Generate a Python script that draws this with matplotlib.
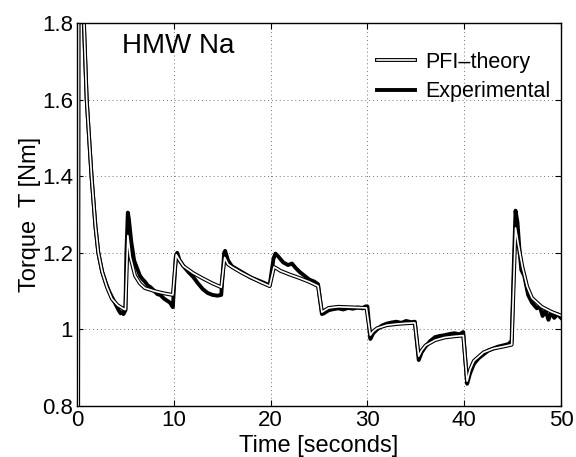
import numpy as np
import matplotlib
matplotlib.use('Agg')
from matplotlib import pyplot as plt
from matplotlib.lines import Line2D

plt.rcParams['font.family'] = ['Liberation Sans', 'DejaVu Sans']

# PFI theory curve (time s, torque Nm)
t_theory = [0.0, 0.12, 0.18, 0.72, 1.0, 1.5, 1.9, 2.2, 2.6, 3.1, 3.6, 4.2, 4.9, 5.0,
            5.25, 5.5, 6.0, 6.5, 7.0, 8.0, 9.0, 9.9,
            10.25, 10.6, 11.0, 12.0, 13.0, 14.0, 14.9,
            15.25, 15.6, 16.0, 17.0, 18.0, 19.0, 19.9,
            20.35, 20.7, 21.0, 22.0, 23.0, 24.0, 24.9,
            25.3, 25.6, 26.0, 27.0, 28.0, 29.0, 29.9,
            30.3, 30.6, 31.0, 32.0, 33.0, 34.0, 34.9,
            35.3, 35.6, 36.0, 37.0, 38.0, 39.0, 39.9,
            40.3, 40.6, 41.0, 42.0, 43.0, 44.0, 44.9,
            45.3, 45.6, 46.0, 46.5, 47.0, 48.0, 49.0, 50.0]
T_theory = [0.80, 0.80, 2.30, 1.80, 1.60, 1.40, 1.27, 1.20, 1.15, 1.11, 1.08, 1.063, 1.052, 1.052,
            1.245, 1.19, 1.14, 1.12, 1.108, 1.100, 1.094, 1.090,
            1.195, 1.18, 1.165, 1.147, 1.133, 1.12, 1.11,
            1.188, 1.17, 1.163, 1.148, 1.135, 1.123, 1.113,
            1.163, 1.158, 1.153, 1.143, 1.134, 1.124, 1.113,
            1.045, 1.05, 1.056, 1.059, 1.058, 1.057, 1.056,
            0.985, 0.995, 1.003, 1.011, 1.014, 1.016, 1.017,
            0.93, 0.945, 0.958, 0.972, 0.979, 0.982, 0.984,
            0.865, 0.895, 0.918, 0.940, 0.950, 0.955, 0.96,
            1.265, 1.22, 1.164, 1.112, 1.082, 1.059, 1.046, 1.036]

# measured torque
t_exp = [0.0, 0.1, 0.15, 0.7, 1.0, 1.5, 1.9, 2.2, 2.6, 3.0, 3.3, 3.6, 4.0, 4.3, 4.5, 4.7, 4.8, 5.0,
         5.1, 5.25, 5.35, 5.6, 5.9, 6.2, 6.5, 6.8, 7.0, 7.3, 7.6, 8.0, 8.3, 8.6, 9.0, 9.3, 9.6, 9.9,
         10.2, 10.35, 10.6, 11.0, 11.5, 12.0, 12.5, 13.0, 13.5, 14.0, 14.5, 14.9,
         15.2, 15.3, 15.6, 16.0, 17.0, 18.0, 19.0, 19.9,
         20.3, 20.5, 20.8, 21.3, 21.8, 22.2, 22.6, 23.0, 23.5, 24.0, 24.5, 24.9,
         25.3, 25.5, 26.0, 26.5, 27.0, 27.5, 28.0, 28.5, 29.0, 29.5, 29.8, 30.0,
         30.3, 30.6, 31.0, 31.5, 32.0, 32.5, 33.0, 33.5, 34.0, 34.5, 34.9,
         35.3, 35.6, 36.0, 36.5, 37.0, 37.5, 38.0, 38.5, 39.0, 39.5, 39.9,
         40.3, 40.6, 41.0, 41.5, 42.0, 42.5, 43.0, 43.5, 44.0, 44.6, 44.9,
         45.1, 45.3, 45.5, 45.7, 45.9, 46.2, 46.6, 47.0, 47.5, 47.8, 48.1, 48.4, 48.7,
         49.0, 49.3, 49.6, 50.0]
T_exp = [0.80, 0.80, 2.30, 1.80, 1.60, 1.40, 1.27, 1.20, 1.15, 1.12, 1.10, 1.085, 1.065, 1.05, 1.042, 1.045, 1.04, 1.05,
         1.20, 1.305, 1.29, 1.23, 1.18, 1.16, 1.14, 1.13, 1.125, 1.115, 1.11, 1.10, 1.092, 1.09, 1.08, 1.075, 1.07, 1.058,
         1.19, 1.20, 1.18, 1.165, 1.15, 1.137, 1.12, 1.105, 1.095, 1.09, 1.088, 1.09,
         1.20, 1.205, 1.18, 1.165, 1.15, 1.135, 1.125, 1.115,
         1.185, 1.198, 1.19, 1.175, 1.168, 1.172, 1.16, 1.15, 1.14, 1.13, 1.125, 1.118,
         1.04, 1.042, 1.05, 1.053, 1.055, 1.052, 1.056, 1.054, 1.057, 1.055, 1.06, 1.06,
         0.975, 0.99, 1.0, 1.01, 1.015, 1.018, 1.02, 1.017, 1.022, 1.019, 1.02,
         0.92, 0.94, 0.955, 0.97, 0.98, 0.983, 0.985, 0.988, 0.99, 0.987, 0.993,
         0.858, 0.885, 0.91, 0.925, 0.935, 0.945, 0.95, 0.955, 0.958, 0.962, 0.97,
         1.15, 1.31, 1.28, 1.21, 1.155, 1.14, 1.09, 1.07, 1.055, 1.06, 1.035, 1.05, 1.025,
         1.045, 1.03, 1.04, 1.03]

xticks = [0, 10, 20, 30, 40, 50]
yticks = [0.8, 1.0, 1.2, 1.4, 1.6, 1.8]
ytick_labels = ['0.8', '1', '1.2', '1.4', '1.6', '1.8']

fig = plt.figure(figsize=(5.76, 4.57), dpi=100)
ax = fig.add_axes([0.1337, 0.1116, 0.8403, 0.8381])

# experimental first, theory (double line) on top
ax.plot(t_exp, T_exp, color='black', lw=2.8, solid_joinstyle='round')
ax.plot(t_theory, T_theory, color='black', lw=2.8)
ax.plot(t_theory, T_theory, color='white', lw=1.2)

ax.set_xlim(0, 50)
ax.set_ylim(0.8, 1.8)
ax.set_xticks(xticks)
ax.set_yticks(yticks)
ax.set_yticklabels(ytick_labels)
ax.tick_params(direction='in', top=True, right=True, length=4.5, width=0.8,
               labelsize=16, pad=3)
ax.grid(True, color='0.45', linestyle=(0, (1, 3)), lw=0.7)
for s in ax.spines.values():
    s.set_linewidth(1.0)

ax.set_xlabel('Time [seconds]', fontsize=17, labelpad=2.5)
ax.set_ylabel('Torque  T [Nm]', fontsize=17)
ax.yaxis.set_label_coords(-0.075, 0.5)

ax.text(0.093, 0.922, 'HMW Na', transform=ax.transAxes, fontsize=20,
        ha='left', va='baseline')

# legend, theory handle drawn as a double line
h_th = (Line2D([], [], color='black', lw=2.8), Line2D([], [], color='white', lw=1.2))
h_ex = Line2D([], [], color='black', lw=2.8)
ax.legend([h_th, h_ex], ['PFI\u2013theory', 'Experimental'], loc='upper left',
          bbox_to_anchor=(0.62, 0.925), frameon=False, fontsize=15.5,
          borderpad=0, borderaxespad=0, handlelength=1.77, handletextpad=0.47,
          labelspacing=0.39)

fig.savefig('out.png', dpi=100)
